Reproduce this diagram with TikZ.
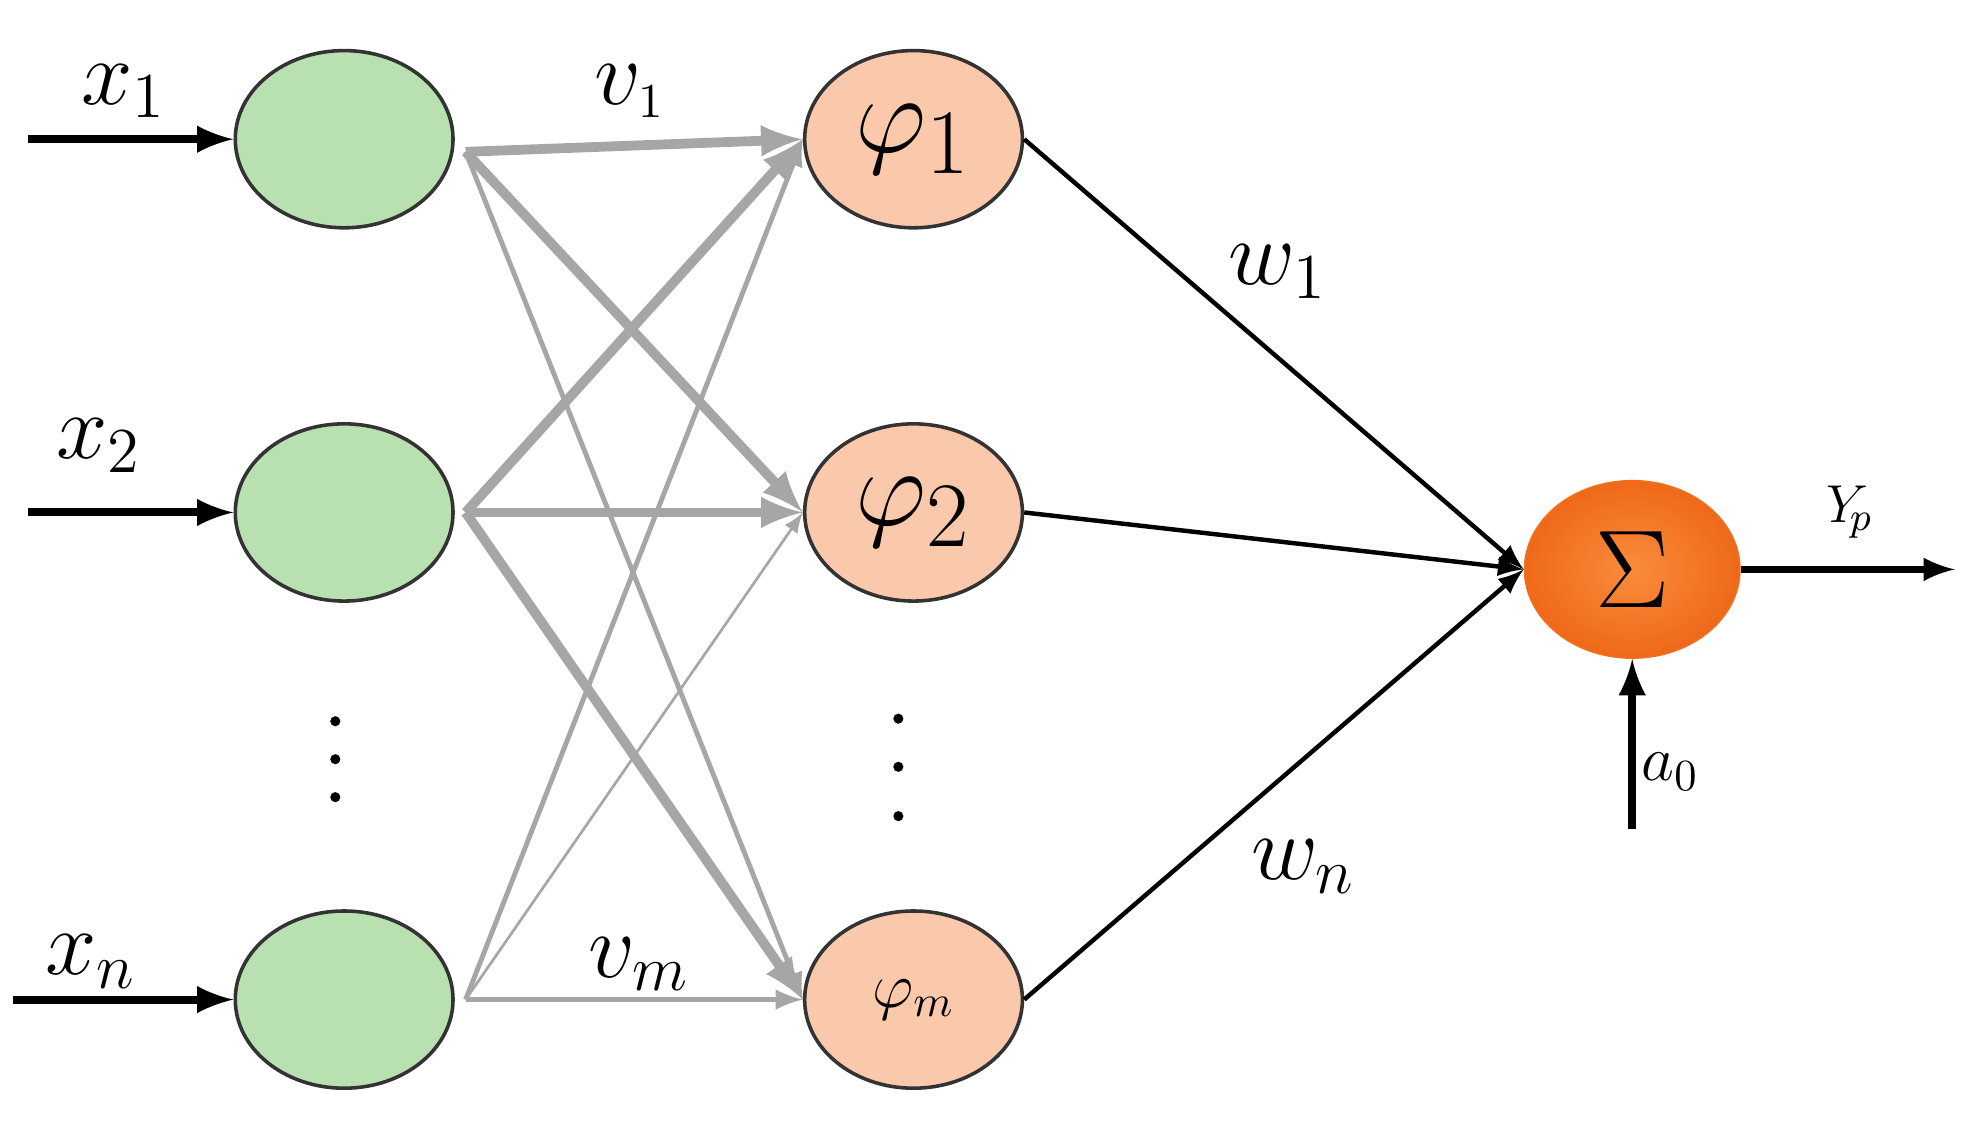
\documentclass[tikz,border=0pt]{standalone}
\usepackage{amsmath}
\usetikzlibrary{shapes.geometric}
\begin{document}
\begin{tikzpicture}[x=0.01cm,y=-0.01cm,
 g/.style={draw=black!35,-latex},
 thk/.style={g,line width=2.2pt},
 thn/.style={g,line width=1.1pt},
 blk/.style={draw=black,line width=1pt,-latex},
 lab/.style={font=\fontsize{21}{25}\selectfont},
 shp/.style={ellipse,draw=black!80,line width=0.8pt,inner sep=0pt,minimum width=1.72cm,minimum height=1.4cm}]
\useasboundingbox (0,0) rectangle (1553,887);
\node[shp,fill={rgb,255:red,184;green,224;blue,176}] (i1) at (272,110) {};
\node[shp,fill={rgb,255:red,184;green,224;blue,176}] (i2) at (272,405) {};
\node[shp,fill={rgb,255:red,184;green,224;blue,176}] (i3) at (272,790) {};
\node[shp,fill={rgb,255:red,250;green,200;blue,170}] (p1) at (722,110) {\fontsize{30}{34}\selectfont$\varphi_1$};
\node[shp,fill={rgb,255:red,250;green,200;blue,170}] (p2) at (722,405) {\fontsize{30}{34}\selectfont$\varphi_2$};
\node[shp,fill={rgb,255:red,250;green,200;blue,170}] (p3) at (722,790) {\fontsize{14}{16}\selectfont$\varphi_m$};
\node[ellipse,draw={rgb,255:red,240;green,110;blue,30},inner sep=0pt,minimum width=1.7cm,minimum height=1.4cm,inner color={rgb,255:red,250;green,140;blue,60},outer color={rgb,255:red,238;green,105;blue,25}] (s) at (1290,450) {\fontsize{24}{28}\selectfont$\Sigma$};
\coordinate (a1) at (22,110); \coordinate (a2) at (22,405); \coordinate (a3) at (10,790);
\draw[blk,line width=1.8pt] (a1) -- (i1);
\draw[blk,line width=1.8pt] (a2) -- (i2);
\draw[blk,line width=1.8pt] (a3) -- (i3);
\node[lab] (l1) at (98,72) {$x_1$};
\node[lab] (l2) at (78,352) {$x_2$};
\node[lab] (l3) at (72,760) {$x_n$};
\coordinate (o1) at (368,120); \coordinate (o2) at (368,405); \coordinate (o3) at (368,790);
\draw[thk] (o1) -- (p1.west);
\draw[thk] (o1) -- (p2.west);
\draw[thn] (o1) -- (p3.west);
\draw[thk] (o2) -- (p1.west);
\draw[thk] (o2) -- (p2.west);
\draw[thk] (o2) -- (p3.west);
\draw[thn] (o3) -- (p1.west);
\draw[thn,line width=0.6pt] (o3) -- (p2.west);
\draw[thn] (o3) -- (p3.west);
\node[lab] (v1) at (498,72) {$v_{\scriptscriptstyle 1}$};
\node[lab] (vm) at (505,762) {$v_{\scriptstyle m}$};
\draw[blk] (p1.east) -- (s.west);
\draw[blk] (p2.east) -- (s.west);
\draw[blk] (p3.east) -- (s.west);
\coordinate (out) at (1545,450);
\draw[blk,line width=1.4pt] (s.east) -- (out);
\coordinate (ab) at (1290,655);
\draw[blk,line width=1.8pt] (ab) -- (s.south);
\node[lab] (w1) at (1010,215) {$w_1$};
\node[lab] (wn) at (1030,685) {$w_n$};
\node (y) at (1462,405) {\fontsize{13}{15}\selectfont$Y_{\!p}$};
\node (a0) at (1320,610) {\fontsize{14}{16}\selectfont$a_0$};
\foreach \yy [count=\k] in {570,600,630} \fill (265,\yy) circle (4) coordinate (d\k);
\foreach \yy [count=\k] in {568,606,645} \fill (710,\yy) circle (4) coordinate (e\k);
\end{tikzpicture}
\end{document}
